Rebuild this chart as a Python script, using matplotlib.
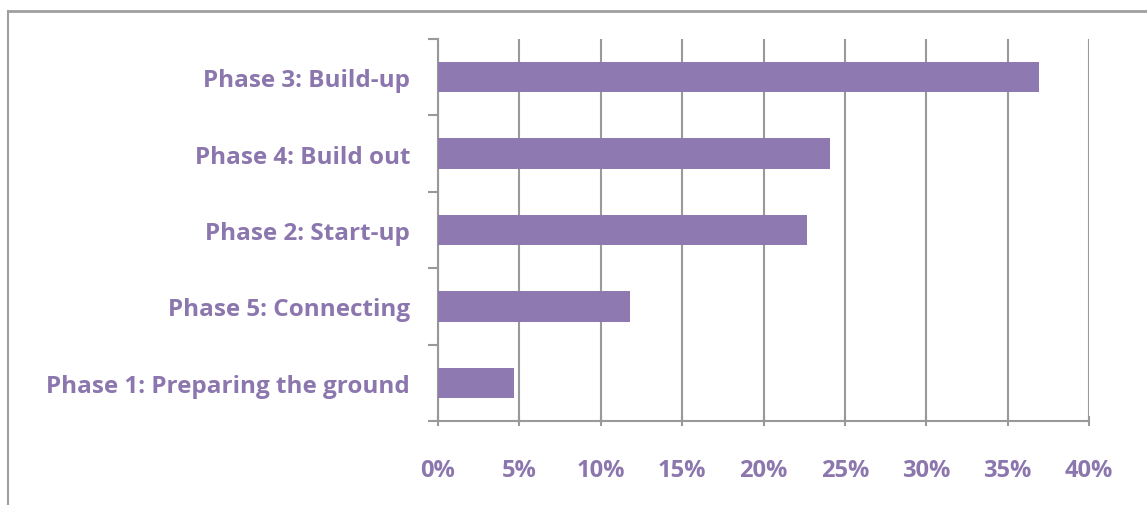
import matplotlib
matplotlib.use("Agg")
import matplotlib.pyplot as plt
from matplotlib.lines import Line2D
from matplotlib.ticker import FixedLocator, PercentFormatter

categories = ["Phase 1: Preparing the ground", "Phase 5: Connecting",
              "Phase 2: Start-up", "Phase 4: Build out", "Phase 3: Build-up"]
values = [4.7, 11.8, 22.7, 24.1, 36.9]
xticks = [0, 5, 10, 15, 20, 25, 30, 35, 40]

bar_color = "#8E79B0"
text_color = "#8C76AE"
axis_color = "#999999"

plt.rcParams['font.family'] = ['Open Sans', 'DejaVu Sans']

fig = plt.figure(figsize=(11.47, 5.06), dpi=100)
ax = fig.add_axes([438/1147, 1-422/506, (1089-438)/1147, (422-40)/506])

y = list(range(len(categories)))
ax.barh(y, values, height=0.4, color=bar_color, zorder=3)
ax.set_xlim(0, 40)
ax.set_ylim(-0.5, len(categories) - 0.5)

ax.set_xticks(xticks)
ax.xaxis.set_major_formatter(PercentFormatter(decimals=0))
ax.set_yticks(y)
ax.set_yticklabels(categories)
ax.yaxis.set_minor_locator(FixedLocator([i - 0.5 for i in range(len(categories) + 1)]))

ax.grid(axis='x', color=axis_color, linewidth=1.5, zorder=0)
for s in ['top', 'right']:
    ax.spines[s].set_visible(False)
for s in ['left', 'bottom']:
    ax.spines[s].set_color(axis_color)
    ax.spines[s].set_linewidth(1.5)

ax.tick_params(axis='y', which='major', length=0, pad=20)
ax.tick_params(axis='y', which='minor', length=7, width=1.5, color=axis_color, direction='out')
ax.tick_params(axis='x', which='major', length=7, width=1.5, color=axis_color, direction='inout', pad=23)
for lab in ax.get_yticklabels():
    lab.set_color(text_color)
    lab.set_fontweight('bold')
    lab.set_fontsize(17.5)
for lab in ax.get_xticklabels():
    lab.set_color(text_color)
    lab.set_fontweight('bold')
    lab.set_fontsize(17)

# outer frame lines (top and left) of the source figure
fig.add_artist(Line2D([8/1147, 1], [1-12/506, 1-12/506], transform=fig.transFigure,
                      color="#A0A0A0", linewidth=2))
fig.add_artist(Line2D([8/1147, 8/1147], [0, 1-12/506], transform=fig.transFigure,
                      color="#A0A0A0", linewidth=1.5))

fig.savefig("out.png", dpi=100)
